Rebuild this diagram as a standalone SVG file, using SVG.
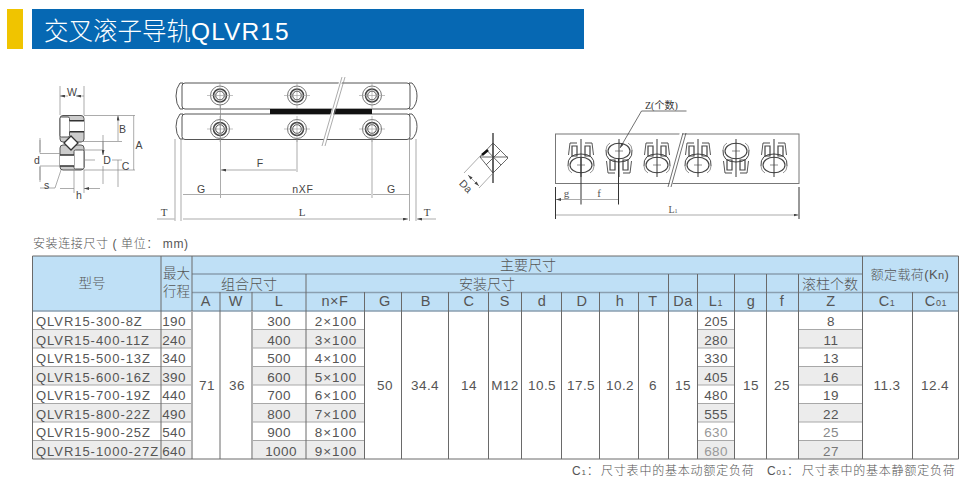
<svg xmlns="http://www.w3.org/2000/svg" width="976" height="486" viewBox="0 0 976 486">
<style>
text{font-family:"Liberation Sans","Noto Sans CJK SC",sans-serif;fill:#555}
.c{text-anchor:middle;font-size:13.5px;letter-spacing:.4px}
.x{text-anchor:middle;font-size:13.5px;letter-spacing:.9px}
.h{text-anchor:middle;font-size:14.5px;letter-spacing:.6px}
.m{font-size:13px;letter-spacing:.95px}
.k{text-anchor:middle;font-size:14px;font-weight:300}
.dl{text-anchor:middle;font-size:10.5px;fill:#444}
.ser{font-family:"Liberation Serif","Noto Sans CJK SC",serif}
.v{stroke:#6a6a6a;stroke-width:1;fill:none}
.hl{stroke:#8a9fb0;stroke-width:1.4;fill:none}
.zl{stroke:#a8a8a8;stroke-width:1.2;fill:none}
.d{stroke:#888;stroke-width:.7;fill:none}
.dk{stroke:#333;stroke-width:1;fill:none}
.dr{stroke:#555;stroke-width:1;fill:#fff}
.g{fill:#ececec}
.hd{fill:#bfe0f6}
.sb{font-size:9px}
.n{font-size:12px;font-weight:300;letter-spacing:.8px}
</style>
<defs>
<marker id="a" viewBox="0 0 5 3" refX="5" refY="1.500" markerWidth="5" markerHeight="3" orient="auto-start-reverse" markerUnits="userSpaceOnUse"><path d="M0 0L5 1.500L0 3z" fill="#444"/></marker>
<g id="hole"><circle r="9.500" fill="#fff" stroke="#666" stroke-width=".9"/><circle r="6.500" fill="#eee" stroke="#444" stroke-width="1.500"/><circle r="4.300" fill="#fff" stroke="#555" stroke-width="1"/><path d="M-13 0H13M0-13V13" stroke="#999" stroke-width=".6"/></g>
<g id="roller" fill="none" stroke="#444" stroke-width=".9">
<path d="M-11-15H-4M4-15H11" stroke="#888" stroke-width="1.500"/>
<path d="M-11-15L-12.500-3M11-15L12.500-3"/>
<path d="M-9-12H-4V-2H-9zM9-12H4V-2H9z" stroke-width="1.200"/>
<path d="M-13 8Q-14-4 0-4Q14-4 13 8" stroke-width="1"/>
<path d="M-13 8Q-13 13-9 15M13 8Q13 13 9 15" stroke="#888"/>
<ellipse cx="0" cy="7" rx="11" ry="7.800" fill="#fff" stroke-width="1.100"/>
<path d="M0-19V19" stroke="#222" stroke-width=".9"/>
<path d="M-4 7H4" stroke="#444" stroke-width=".6"/>
</g>
</defs>

<g id="title">
<rect x="7" y="9" width="16" height="40" fill="#f0c400"/>
<rect x="32" y="9" width="552" height="40" fill="#0668b3"/>
<text x="44" y="40" font-size="24.500" font-weight="300" style="fill:#fff">交叉滚子导轨<tspan letter-spacing="1.100">QLVR15</tspan></text>
</g>

<g id="section-view">
<rect x="60" y="115.500" width="24" height="26.500" rx="3" fill="#ccc" stroke="#555"/>
<rect x="60" y="117" width="9.500" height="20" rx="1.500" fill="#fff" stroke="#555"/>
<rect x="69.500" y="121" width="14.500" height="11" fill="#fff"/>
<path d="M69.500 120.700H84M69.500 131.700H84" stroke="#333" stroke-width="1.500"/>
<rect x="60" y="145" width="24" height="25" rx="3" fill="#ccc" stroke="#555"/>
<rect x="74" y="150" width="10" height="19" rx="1.500" fill="#fff" stroke="#555"/>
<rect x="60" y="155" width="14" height="11" fill="#fff"/>
<path d="M60 155H74M60 166H74" stroke="#333" stroke-width="1.500"/>
<path d="M71 136L78 143L71 150L64 143z" fill="#fff" stroke="#333" stroke-width="1.300"/>
<path class="d" d="M60 86V115M84 86V115M84 115.500H135M84 170H135M78 141.500H122M84 150H103M84 160H95M112 160H122M40 153.500H60M40 166H60M118 170V187M103 135V155M103 166V184M40 138V152M40 167V182M74 170V193M84 170V193"/>
<path class="d" marker-start="url(#a)" marker-end="url(#a)" d="M60 96H68M84 96H76"/>
<path class="d" marker-start="url(#a)" marker-end="url(#a)" d="M118 115.500V141M133.700 115.500V170M118 160V170M103 141V155"/>
<path class="d" marker-end="url(#a)" d="M40 140V153.500M40 180V166M60 188.500H74M100 188.500H84"/>
<path class="d" d="M61 170L55 188H40"/>
<text class="dl" x="72" y="96">W</text><text class="dl" x="122.500" y="133">B</text><text class="dl" x="139" y="149">A</text><text class="dl" x="107" y="164">D</text><text class="dl" x="125.500" y="170">C</text><text class="dl" x="37" y="164">d</text><text class="dl" x="46.500" y="189">s</text><text class="dl" x="79" y="199">h</text>
</g>

<g id="rail-view">
<path class="dr" d="M183 83H180Q176 88 176 96Q176 104 180 109H183zM409 83H412Q417 88 417 96Q417 104 412 109H409z"/>
<path class="dr" d="M183 114H180Q176 119 176 126.500Q176 134 180 139H183zM409 114H412Q417 119 417 126.500Q417 134 412 139H409z"/>
<rect class="dr" x="182" y="83" width="228" height="26" rx="3"/>
<rect class="dr" x="182" y="114" width="228" height="25.500" rx="3"/>
<rect x="270" y="109" width="102" height="5" fill="#111"/>
<use href="#hole" x="220" y="95.500"/><use href="#hole" x="297" y="95.500"/><use href="#hole" x="372" y="95.500"/>
<use href="#hole" x="220" y="129"/><use href="#hole" x="297" y="129"/><use href="#hole" x="372" y="129"/>
<path d="M343 78L325 146L322 146L340 78z" fill="#fff" stroke="none"/>
<path class="d" d="M345 77L325 146M342 77L322 146"/>
<path class="d" d="M175 139V221M181 139V221M409.500 139V221M416 139V221M220.500 105V198M297 140V172M372 140V198"/>
<path class="d" marker-start="url(#a)" marker-end="url(#a)" d="M221 170H296M183 194.500H220M221 194.500H371M373 194.500H409M183 219H408"/>
<path class="d" marker-end="url(#a)" d="M157 219H174.500M436 219H417"/>
<rect x="250" y="158" width="20" height="11" fill="none"/>
<text class="dl" x="260" y="167">F</text><text class="dl" x="201" y="193">G</text><text class="dl" x="303" y="193" style="letter-spacing:.8px">nXF</text><text class="dl" x="391" y="193">G</text>
<text class="dl ser" x="164" y="216" style="font-size:11px">T</text><text class="dl ser" x="302" y="216" style="font-size:11px">L</text><text class="dl ser" x="427" y="216" style="font-size:11px">T</text>
</g>

<g id="da-view">
<path d="M493 133V183" stroke="#777" stroke-width="2" fill="none"/>
<path d="M480 157L493 143L508 158L493 173zM486.500 150L501 165M500 151L486 165M480 157H508M493 143V173" fill="none" stroke="#444" stroke-width=".8"/>
<path d="M482 155L488 150" stroke="#111" stroke-width="2.500"/>
<path class="d" d="M464 173L482 154M479 188L493 173"/>
<path class="d" marker-start="url(#a)" marker-end="url(#a)" d="M468 175L479 186"/>
<text class="dl" x="466" y="190" transform="rotate(45 466 186)">Da</text>
</g>

<g id="roller-plan">
<rect x="555.500" y="134" width="243.500" height="49.500" fill="#fff" stroke="#777"/>
<path d="M683 131L672 187L669 187L680 131z" fill="#fff"/>
<path class="dk" d="M686 133L671 187M683 133L668 187" style="stroke-width:.7"/>
<use href="#roller" transform="translate(581 158)"/>
<use href="#roller" transform="translate(619 158) scale(1 -1)"/>
<use href="#roller" transform="translate(657 158)"/>
<use href="#roller" transform="translate(698 158)"/>
<use href="#roller" transform="translate(736 158) scale(1 -1)"/>
<use href="#roller" transform="translate(774 158)"/>
<path class="dk" d="M581 158V204.500M618.500 158V204.500M555.500 187V219M799 187V219"/>
<path class="d" marker-start="url(#a)" marker-end="url(#a)" d="M556 199.500H580.500M582 199.500H618M556 215H798.500"/>
<path class="d" marker-end="url(#a)" style="stroke:#333" d="M686.500 111H641.500L620 148"/>
<text class="ser" x="645" y="109" font-size="10" style="fill:#333">Z(个数)</text>
<text class="ser" x="566.500" y="197" font-size="11" text-anchor="middle">g</text>
<text class="ser" x="599" y="197" font-size="11" text-anchor="middle">f</text>
<text class="ser" x="673" y="213" font-size="10" text-anchor="middle">L<tspan font-size="6">1</tspan></text>
</g>

<text x="33" y="248" font-size="12" font-weight="300" style="letter-spacing:.6px">安装连接尺寸 ( 单位： mm)</text>

<g id="table">
<rect class="hd" x="32.500" y="256" width="926" height="55"/>
<g>
<rect class="g" x="33" y="330" width="159" height="18"/><rect class="g" x="33" y="367" width="159" height="18"/><rect class="g" x="33" y="404" width="159" height="18"/><rect class="g" x="33" y="441" width="159" height="18"/>
<rect class="g" x="252" y="330" width="112" height="18"/><rect class="g" x="252" y="367" width="112" height="18"/><rect class="g" x="252" y="404" width="112" height="18"/><rect class="g" x="252" y="441" width="112" height="18"/>
<rect class="g" x="697" y="330" width="37" height="18"/><rect class="g" x="697" y="367" width="37" height="18"/><rect class="g" x="697" y="404" width="37" height="18"/><rect class="g" x="697" y="441" width="37" height="18"/>
<rect class="g" x="798" y="330" width="64" height="18"/><rect class="g" x="798" y="367" width="64" height="18"/><rect class="g" x="798" y="404" width="64" height="18"/><rect class="g" x="798" y="441" width="64" height="18"/>
</g>
<path class="zl" d="M32.500 329.500H192M32.500 348H192M32.500 366.500H192M32.500 385H192M32.500 403.500H192M32.500 422H192M32.500 440.500H192M252 329.500H364M252 348H364M252 366.500H364M252 385H364M252 403.500H364M252 422H364M252 440.500H364M697 329.500H734M697 348H734M697 366.500H734M697 385H734M697 403.500H734M697 422H734M697 440.500H734M798 329.500H862M798 348H862M798 366.500H862M798 385H862M798 403.500H862M798 422H862M798 440.500H862"/>
<path class="hl" d="M192 274H862M192 292.500H958M32.500 311H958"/>
<path style="stroke:#b0b0b0;stroke-width:2;fill:none" d="M192 311V459M252 311V459"/>
<path class="v" d="M32.500 256V459M161 256V459M192 256V311M220 292V459M252 292V311M306 274V459M364.500 292V459M401.500 292V459M448.500 292V459M488.500 292V459M521.500 292V459M561.500 292V459M599.500 292V459M638.500 292V459M668.500 274V459M697.500 274V459M734.500 274V459M766.500 274V459M798.500 274V459M862.500 256V459M912.500 292V459M958.500 256V459M32.500 256H958.500M32.500 459H958.500"/>

<text class="k" x="92" y="288" style="font-size:13.500px">型号</text>
<text class="k" x="176.500" y="278" style="font-size:13.500px">最大</text><text class="k" x="176.500" y="296" style="font-size:13.500px">行程</text>
<text class="k" x="528" y="270">主要尺寸</text>
<text class="k" x="249" y="289">组合尺寸</text>
<text class="k" x="487" y="289">安装尺寸</text>
<text class="k" x="830" y="289">滚柱个数</text>
<text class="k" x="910" y="279" style="font-size:13px;letter-spacing:.4px">额定载荷(K<tspan font-size="11">n</tspan>)</text>
<text class="h" x="206" y="306">A</text><text class="h" x="236" y="306">W</text><text class="h" x="279" y="306">L</text><text class="h" x="335" y="306">n×F</text><text class="h" x="385" y="306">G</text><text class="h" x="426" y="306">B</text><text class="h" x="469" y="306">C</text><text class="h" x="505" y="306">S</text><text class="h" x="542" y="306">d</text><text class="h" x="582" y="306">D</text><text class="h" x="620" y="306">h</text><text class="h" x="653" y="306">T</text><text class="h" x="683" y="306">Da</text><text class="h" x="716" y="306">L<tspan class="sb">1</tspan></text><text class="h" x="751" y="306">g</text><text class="h" x="782" y="306">f</text><text class="h" x="831" y="306">Z</text><text class="h" x="887" y="306">C<tspan class="sb">1</tspan></text><text class="h" x="936" y="306">C<tspan class="sb">01</tspan></text>

<text class="m" x="36" y="326">QLVR15-300-8Z</text><text class="m" x="36" y="344.500">QLVR15-400-11Z</text><text class="m" x="36" y="363">QLVR15-500-13Z</text><text class="m" x="36" y="381.500">QLVR15-600-16Z</text><text class="m" x="36" y="400">QLVR15-700-19Z</text><text class="m" x="36" y="418.500">QLVR15-800-22Z</text><text class="m" x="36" y="437">QLVR15-900-25Z</text><text class="m" x="36" y="455.500">QLVR15-1000-27Z</text>
<text class="c" x="174" y="326">190</text><text class="c" x="174" y="344.500">240</text><text class="c" x="174" y="363">340</text><text class="c" x="174" y="381.500">390</text><text class="c" x="174" y="400">440</text><text class="c" x="174" y="418.500">490</text><text class="c" x="174" y="437">540</text><text class="c" x="174" y="455.500">640</text>
<text class="c" x="279" y="326">300</text><text class="c" x="279" y="344.500">400</text><text class="c" x="279" y="363">500</text><text class="c" x="279" y="381.500">600</text><text class="c" x="279" y="400">700</text><text class="c" x="279" y="418.500">800</text><text class="c" x="279" y="437">900</text><text class="c" x="281" y="455.500">1000</text>
<text class="x" x="336" y="326">2×100</text><text class="x" x="336" y="344.500">3×100</text><text class="x" x="336" y="363">4×100</text><text class="x" x="336" y="381.500">5×100</text><text class="x" x="336" y="400">6×100</text><text class="x" x="336" y="418.500">7×100</text><text class="x" x="336" y="437">8×100</text><text class="x" x="336" y="455.500">9×100</text>
<text class="c" x="716" y="326">205</text><text class="c" x="716" y="344.500">280</text><text class="c" x="716" y="363">330</text><text class="c" x="716" y="381.500">405</text><text class="c" x="716" y="400">480</text><text class="c" x="716" y="418.500">555</text><text class="c" x="716" y="437" style="fill:#999">630</text><text class="c" x="716" y="455.500" style="fill:#999">680</text>
<text class="c" x="831" y="326">8</text><text class="c" x="831" y="344.500">11</text><text class="c" x="831" y="363">13</text><text class="c" x="831" y="381.500">16</text><text class="c" x="831" y="400">19</text><text class="c" x="831" y="418.500">22</text><text class="c" x="831" y="437" style="fill:#888">25</text><text class="c" x="831" y="455.500" style="fill:#777">27</text>
<text class="c" x="207" y="390">71</text><text class="c" x="237" y="390">36</text><text class="c" x="385" y="390">50</text><text class="c" x="425" y="390">34.4</text><text class="c" x="469" y="390">14</text><text class="c" x="505" y="390">M12</text><text class="c" x="542" y="390">10.5</text><text class="c" x="581" y="390">17.5</text><text class="c" x="620" y="390">10.2</text><text class="c" x="653" y="390">6</text><text class="c" x="683" y="390">15</text><text class="c" x="751" y="390">15</text><text class="c" x="782" y="390">25</text><text class="c" x="887" y="390">11.3</text><text class="c" x="935" y="390">12.4</text>
</g>

<text class="n" x="572" y="475">C<tspan font-size="8">1</tspan>：<tspan x="601">尺寸表中的基本动额定负荷</tspan></text>
<text class="n" x="767" y="475">C<tspan font-size="8">01</tspan>：<tspan x="802">尺寸表中的基本静额定负荷</tspan></text>
</svg>
